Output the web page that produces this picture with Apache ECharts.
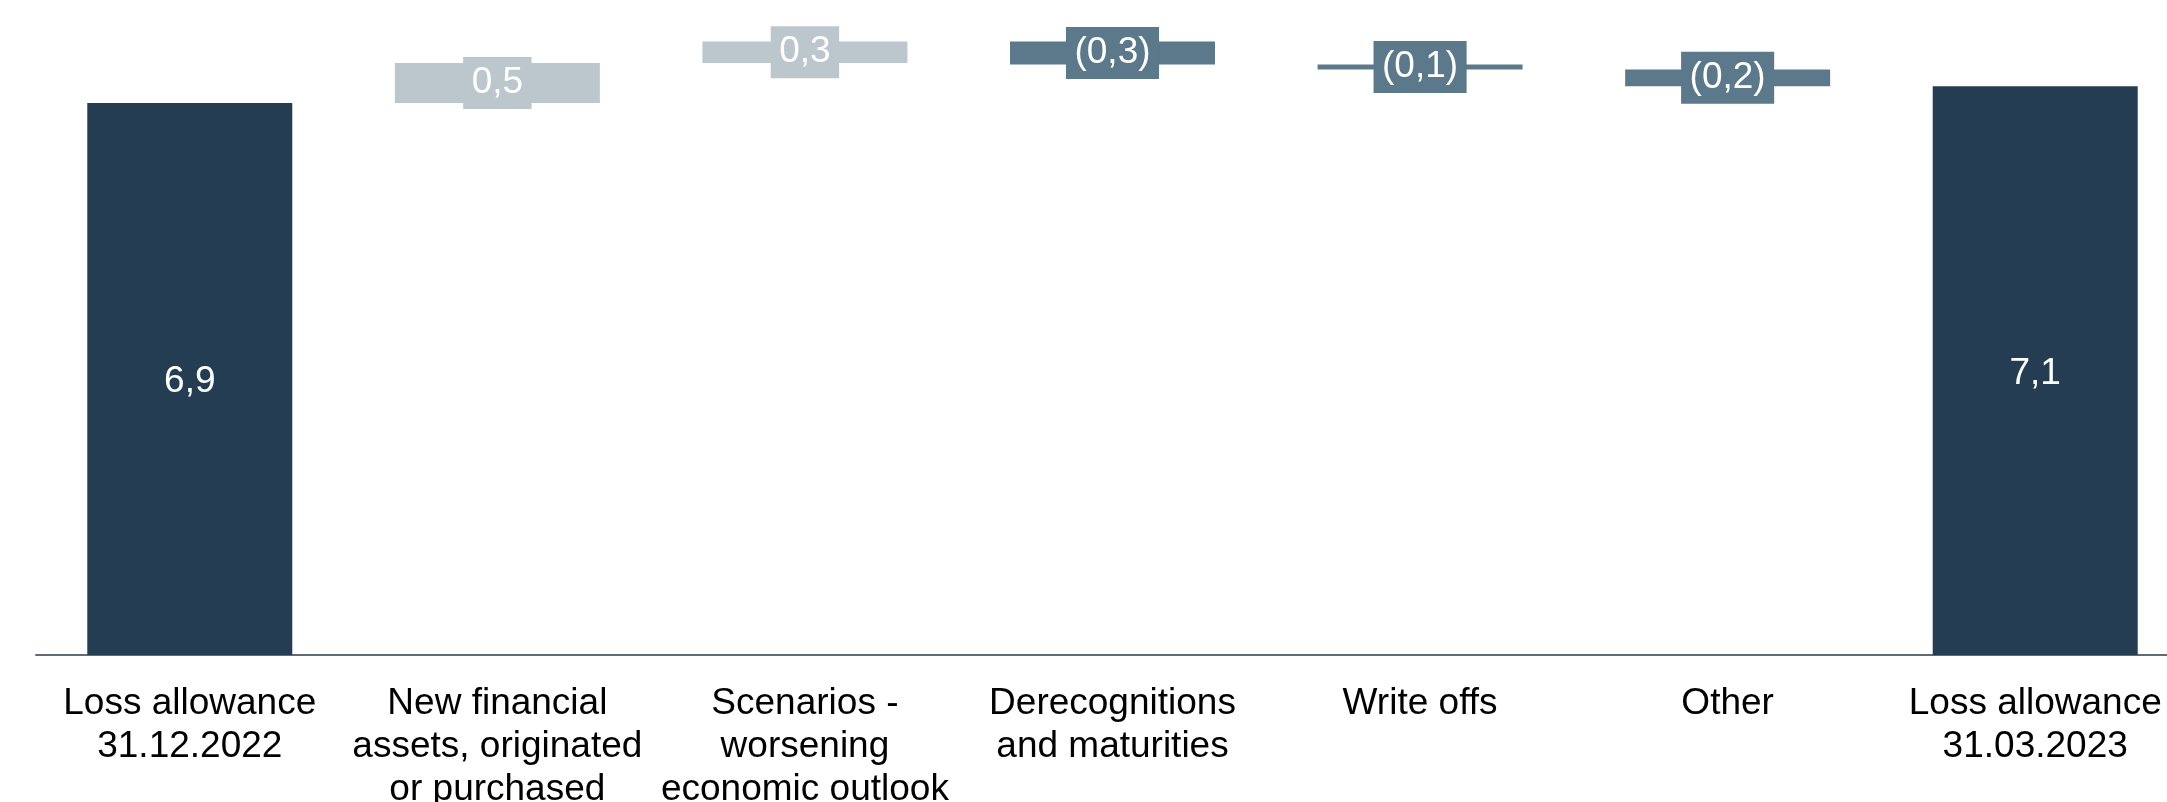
<!DOCTYPE html>
<html>
<head>
<meta charset="utf-8">
<script src="https://cdn.jsdelivr.net/npm/echarts@6/dist/echarts.min.js"></script>
<style>
html,body{margin:0;padding:0;background:#fff;}
#chart{width:2167px;height:802px;}
</style>
</head>
<body>
<div id="chart"></div>
<script>
// ---- data ----
const categories = [
  'Loss allowance\n31.12.2022',
  'New financial\nassets, originated\nor purchased',
  'Scenarios -\nworsening\neconomic outlook',
  'Derecognitions\nand maturities',
  'Write offs',
  'Other',
  'Loss allowance\n31.03.2023'
];
const openingValue = 6.90;
const changes = [0.50, 0.27, -0.29, -0.06, -0.21];
const closingValue = 7.11;

const colorTotal = '#243d52';
const colorUp = '#bcc7cd';
const colorDown = '#5b798a';

// build waterfall series through stacking
const baseData = [0];
const barData = [{ value: openingValue, itemStyle: { color: colorTotal }, label: { backgroundColor: colorTotal, offset: [0, 3] }, raw: openingValue }];
let running = openingValue;
changes.forEach(function (d) {
  const next = running + d;
  baseData.push(Math.min(running, next));
  const c = d >= 0 ? colorUp : colorDown;
  barData.push({ value: Math.abs(d), raw: d, itemStyle: { color: c }, label: { backgroundColor: c } });
  running = next;
});
baseData.push(0);
barData.push({ value: closingValue, raw: closingValue, itemStyle: { color: colorTotal }, label: { backgroundColor: colorTotal, offset: [0, 3] } });

function fmt(v) {
  const s = Math.abs(v).toFixed(1).replace('.', ',');
  return v < 0 ? '(' + s + ')' : s;
}

const chart = echarts.init(document.getElementById('chart'), null, { renderer: 'canvas' });
chart.setOption({
  animation: false,
  backgroundColor: '#ffffff',
  textStyle: { fontFamily: 'Liberation Sans, Arial, sans-serif' },
  grid: { left: 36, right: -22, top: 15, bottom: 147, containLabel: false, outerBoundsMode: 'none' },
  xAxis: {
    type: 'category',
    data: categories,
    axisTick: { show: false },
    axisLine: { lineStyle: { color: '#5f6c77', width: 2 } },
    axisLabel: {
      color: '#000000',
      fontSize: 37,
      lineHeight: 43,
      margin: 27,
      interval: 0,
      hideOverlap: false,
      fontFamily: 'Liberation Sans, Arial, sans-serif'
    }
  },
  yAxis: {
    type: 'value',
    min: 0,
    max: 8,
    show: false,
    splitLine: { show: false }
  },
  series: [
    {
      type: 'bar',
      stack: 'wf',
      data: baseData,
      barWidth: 205,
      itemStyle: { color: 'rgba(0,0,0,0)' },
      emphasis: { disabled: true },
      silent: true
    },
    {
      type: 'bar',
      stack: 'wf',
      data: barData,
      barWidth: 205,
      label: {
        show: true,
        position: 'inside',
        color: '#ffffff',
        fontSize: 37,
        lineHeight: 37,
        padding: [7.5, 8.5, 7.5, 8.5],
        fontFamily: 'Liberation Sans, Arial, sans-serif',
        formatter: function (p) { return fmt(p.data.raw); }
      }
    }
  ]
});
</script>
</body>
</html>
